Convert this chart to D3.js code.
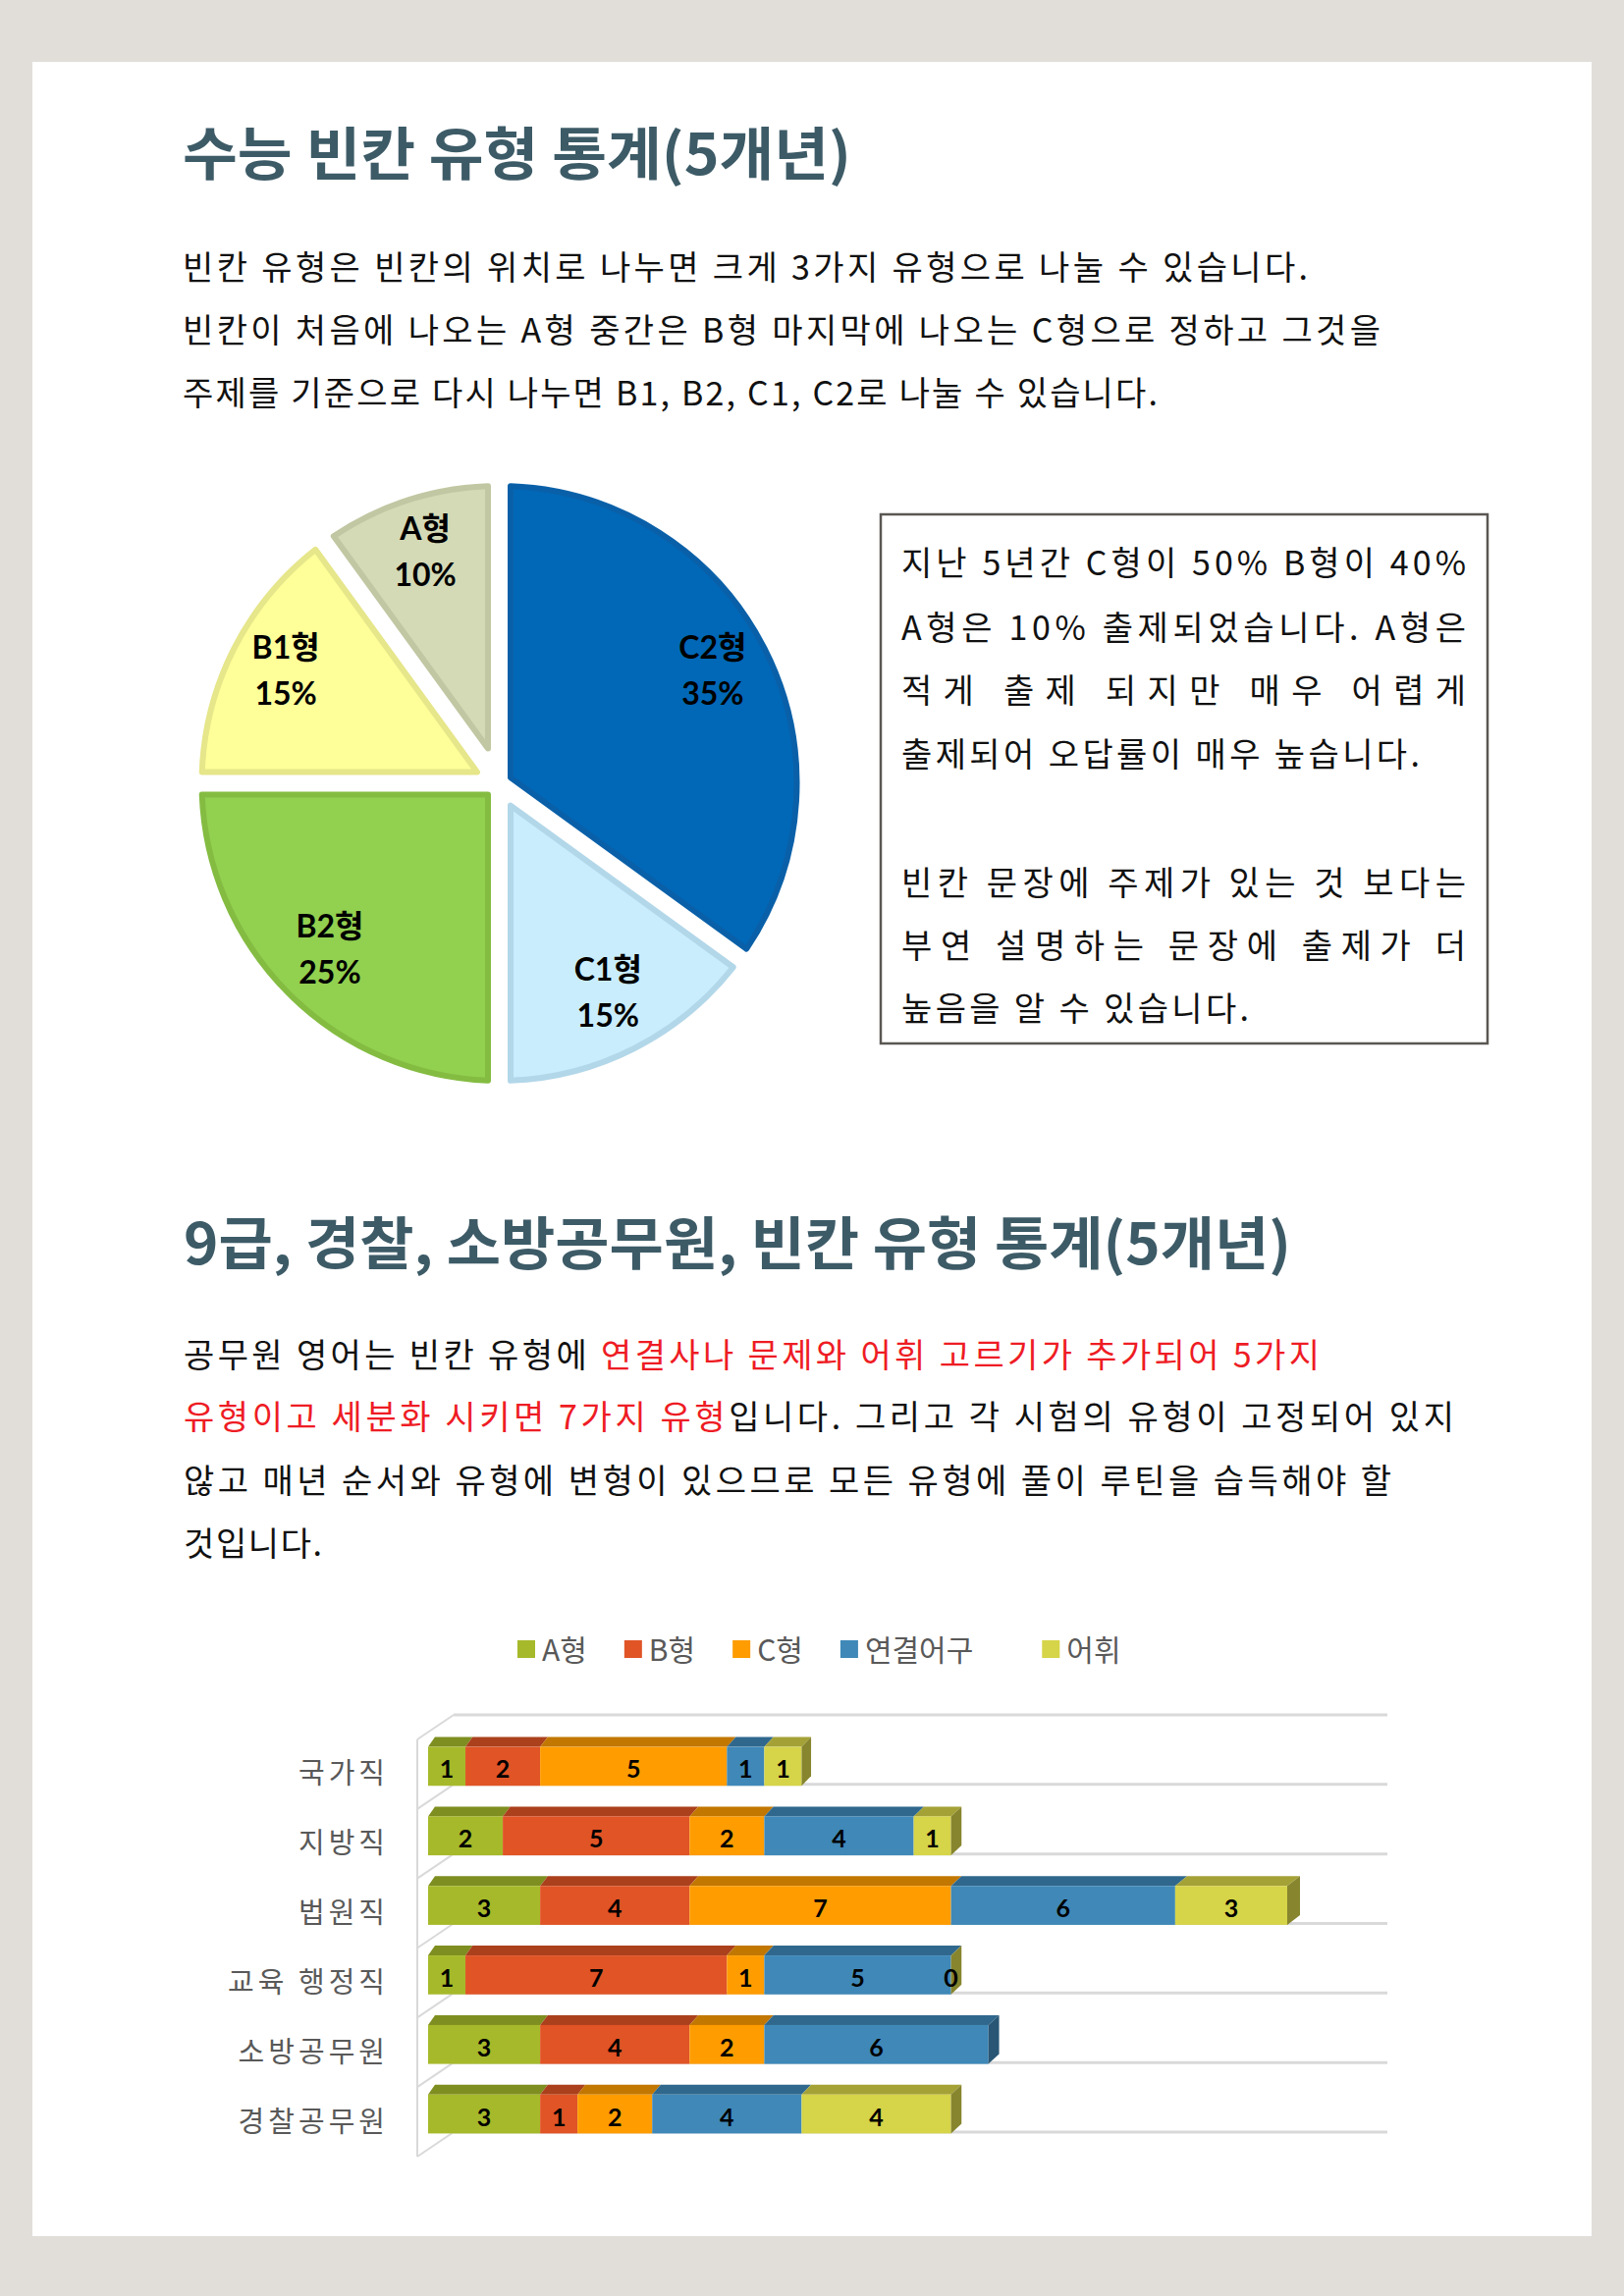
<!DOCTYPE html>
<html>
<head>
<meta charset="utf-8">
<script src="https://cdn.jsdelivr.net/npm/d3@7"></script>
<style>
  body { margin: 0; background: #e1ddd9; }
  svg { display: block; }
</style>
</head>
<body>
<div id="container"></div>
<script>
/* CONSTANTS AND GLOBALS */
const width = 1654, height = 2339
const KR = "'Noto Sans CJK KR', 'Noto Sans', sans-serif"
const LABEL = "Lato, 'Noto Sans CJK KR', sans-serif"

/* DATA */
// pie: clockwise from 12 o'clock
const pieNames = ["C2형", "C1형", "B2형", "B1형", "A형"]
const pieValues = [35, 15, 25, 15, 10]

// stacked bars
const categories = ["국가직", "지방직", "법원직", "교육 행정직", "소방공무원", "경찰공무원"]
const seriesNames = ["A형", "B형", "C형", "연결어구", "어휘"]
const aType = [1, 2, 3, 1, 3, 3]
const bType = [2, 5, 4, 7, 4, 1]
const cType = [5, 2, 7, 1, 2, 2]
const linkType = [1, 4, 6, 5, 6, 4]
const vocabType = [1, 1, 3, 0, null, 4]

/* STYLES */
const pieFill = ["#0068b7", "#c9edfc", "#92d050", "#ffff99", "#d4dab6"]
const pieEdge = ["#0a60a8", "#b2d7e9", "#84bc42", "#e6e68a", "#c1c7a2"]
const barColors = ["#a6b92a", "#e05426", "#fe9c00", "#3f88b8", "#d6d448"]
const titleColor = "#3d5b67"
const red = "#ee1c24"

// text blocks
const para1 = [
  { t: "빈칸 유형은 빈칸의 위치로 나누면 크게 3가지 유형으로 나눌 수 있습니다.", y: 285, w: 1146 },
  { t: "빈칸이 처음에 나오는 A형 중간은 B형 마지막에 나오는 C형으로 정하고 그것을", y: 349, w: 1220 },
  { t: "주제를 기준으로 다시 나누면 B1, B2, C1, C2로 나눌 수 있습니다.", y: 413, w: 993 }
]
const boxLines = [
  { t: "지난 5년간 C형이 50% B형이 40%", y: 586, w: 575 },
  { t: "A형은 10% 출제되었습니다. A형은", y: 652, w: 575 },
  { t: "적게 출제 되지만 매우 어렵게", y: 716, w: 575 },
  { t: "출제되어 오답률이 매우 높습니다.", y: 781, w: 528 },
  { t: "빈칸 문장에 주제가 있는 것 보다는", y: 912, w: 575 },
  { t: "부연 설명하는 문장에 출제가 더", y: 976, w: 575 },
  { t: "높음을 알 수 있습니다.", y: 1040, w: 354 }
]
const para2 = [
  { parts: [["공무원 영어는 빈칸 유형에 ", false], ["연결사나 문제와 어휘 고르기가 추가되어 5가지", true]], y: 1393, w: 1157 },
  { parts: [["유형이고 세분화 시키면 7가지 유형", true], ["입니다. 그리고 각 시험의 유형이 고정되어 있지", false]], y: 1456, w: 1294 },
  { parts: [["않고 매년 순서와 유형에 변형이 있으므로 모든 유형에 풀이 루틴을 습득해야 할", false]], y: 1521, w: 1230 },
  { parts: [["것입니다.", false]], y: 1585, w: 141 }
]

/* CREATE SVG ELEMENT */
const svg = d3.select("#container")
  .append("svg")
  .attr("width", width)
  .attr("height", height)

svg.append("rect")
  .attr("x", 33).attr("y", 63)
  .attr("width", 1588).attr("height", 2215)
  .attr("fill", "#ffffff")

// TITLES
const titles = [
  { t: "수능 빈칸 유형 통계(5개년)", x: 186, y: 178, w: 681 },
  { t: "9급, 경찰, 소방공무원, 빈칸 유형 통계(5개년)", x: 187, y: 1288, w: 1128 }
]
svg.selectAll(".title")
  .data(titles)
  .join("text")
  .attr("class", "title")
  .attr("x", d => d.x)
  .attr("y", d => d.y)
  .attr("textLength", d => d.w)
  .attr("lengthAdjust", "spacingAndGlyphs")
  .attr("font-family", KR)
  .attr("font-weight", 700)
  .attr("font-size", 58)
  .attr("fill", titleColor)
  .text(d => d.t)

// PARAGRAPHS
svg.selectAll(".p1")
  .data(para1)
  .join("text")
  .attr("class", "p1")
  .attr("x", 186)
  .attr("y", d => d.y)
  .attr("textLength", d => d.w)
  .attr("lengthAdjust", "spacing")
  .attr("font-family", KR)
  .attr("font-size", 34)
  .attr("fill", "#111")
  .text(d => d.t)

const p2 = svg.selectAll(".p2")
  .data(para2)
  .join("text")
  .attr("class", "p2")
  .attr("x", 187)
  .attr("y", d => d.y)
  .attr("textLength", d => d.w)
  .attr("lengthAdjust", "spacing")
  .attr("font-family", KR)
  .attr("font-size", 34)
p2.selectAll("tspan")
  .data(d => d.parts)
  .join("tspan")
  .attr("fill", d => d[1] ? red : "#111")
  .text(d => d[0])

// TEXT BOX
svg.append("rect")
  .attr("x", 897).attr("y", 524)
  .attr("width", 618).attr("height", 539)
  .attr("fill", "none")
  .attr("stroke", "#5a5753")
  .attr("stroke-width", 2.5)

svg.selectAll(".box")
  .data(boxLines)
  .join("text")
  .attr("class", "box")
  .attr("x", 918)
  .attr("y", d => d.y)
  .attr("textLength", d => d.w)
  .attr("lengthAdjust", "spacing")
  .attr("font-family", KR)
  .attr("font-size", 34)
  .attr("fill", "#111")
  .text(d => d.t)

// PIE
const cx = 508.5, cy = 798, rOuter = 306, gapHalf = 8.5, edgeW = 6
const arcs = d3.pie().sort(null).value(d => d)(pieValues)

const pt = (a, r) => [cx + r * Math.sin(a), cy - r * Math.cos(a)]
function slicePath(d) {
  const h = gapHalf + edgeW / 2, r = rOuter - edgeW / 2
  const span = d.endAngle - d.startAngle, mid = (d.startAngle + d.endAngle) / 2
  const tip = pt(mid, h / Math.sin(span / 2))
  const p = Math.asin(h / r)
  const s = pt(d.startAngle + p, r)
  const path = d3.path()
  path.moveTo(tip[0], tip[1])
  path.lineTo(s[0], s[1])
  path.arc(cx, cy, r, d.startAngle + p - Math.PI / 2, d.endAngle - p - Math.PI / 2)
  path.closePath()
  return path.toString()
}

svg.selectAll(".slice")
  .data(arcs)
  .join("path")
  .attr("class", "slice")
  .attr("d", slicePath)
  .attr("fill", (d, i) => pieFill[i])
  .attr("stroke", (d, i) => pieEdge[i])
  .attr("stroke-width", edgeW)
  .attr("stroke-linejoin", "round")

const labelArc = d3.arc().innerRadius(244).outerRadius(244)
const pieLabels = svg.selectAll(".pieLabel")
  .data(arcs)
  .join("text")
  .attr("class", "pieLabel")
  .attr("transform", d => {
    const c = labelArc.centroid(d)
    return `translate(${cx + c[0]}, ${cy + c[1] - 4})`
  })
  .attr("text-anchor", "middle")
  .attr("font-family", LABEL)
  .attr("font-weight", 700)
  .attr("font-size", 32)
  .attr("fill", "#000")
pieLabels.append("tspan")
  .attr("x", 0).attr("y", -12)
  .text((d, i) => pieNames[i])
pieLabels.append("tspan")
  .attr("x", 0).attr("y", 35)
  .text(d => d.data + "%")

// BAR CHART
const rows = categories.map((c, i) => ({
  cat: c,
  "A형": aType[i], "B형": bType[i], "C형": cType[i], "연결어구": linkType[i], "어휘": vocabType[i]
}))
const stacked = d3.stack()
  .keys(seriesNames)
  .value((d, k) => d[k] == null ? 0 : d[k])(rows)

const xScale = d3.scaleLinear().domain([0, 23]).range([436, 1311])
const depthX = d3.scaleLinear().domain([0, 23]).range([7, 13])
const depthY = 10
const yScale = d3.scaleBand()
  .domain(categories)
  .range([1747, 2172])
  .paddingInner(0.44)
  .paddingOuter(0.22)
const step = yScale.step()
const frontTop = c => yScale(c) + 17
const bw = yScale.bandwidth()

// back grid lines + left wall
const gridYs = d3.range(categories.length + 1).map(k => 1747 + k * step)
svg.selectAll(".grid")
  .data(gridYs)
  .join("line")
  .attr("class", "grid")
  .attr("x1", 462).attr("x2", 1413)
  .attr("y1", d => d).attr("y2", d => d)
  .attr("stroke", "#d9d9d9")
  .attr("stroke-width", 3)
svg.selectAll(".wallTick")
  .data(gridYs)
  .join("line")
  .attr("class", "wallTick")
  .attr("x1", 425).attr("y1", d => d + 25)
  .attr("x2", 462).attr("y2", d => d)
  .attr("stroke", "#d9d9d9")
  .attr("stroke-width", 2)
svg.append("line")
  .attr("x1", 425).attr("x2", 425)
  .attr("y1", gridYs[0] + 25).attr("y2", gridYs[gridYs.length - 1] + 25)
  .attr("stroke", "#d9d9d9")
  .attr("stroke-width", 2)

// category labels
svg.selectAll(".catLabel")
  .data(categories)
  .join("text")
  .attr("class", "catLabel")
  .attr("x", 396)
  .attr("y", d => frontTop(d) + bw / 2 + 18)
  .attr("text-anchor", "end")
  .attr("font-family", KR)
  .attr("font-size", 29)
  .attr("letter-spacing", 4)
  .attr("fill", "#595959")
  .text(d => d)

// segments
const poly = pts => "M" + pts.map(p => p.join(",")).join("L") + "Z"
stacked.forEach((layer, si) => {
  const base = d3.color(barColors[si])
  const g = svg.append("g").attr("class", "series")
  layer.forEach(seg => {
    const row = seg.data
    if (row[layer.key] == null) return
    const x0 = xScale(seg[0]), x1 = xScale(seg[1])
    const t = frontTop(row.cat)
    g.append("path")
      .attr("d", poly([[x0, t], [x0 + depthX(seg[0]), t - depthY], [x1 + depthX(seg[1]), t - depthY], [x1, t]]))
      .attr("fill", base.darker(0.75))
    g.append("rect")
      .attr("x", x0).attr("y", t)
      .attr("width", x1 - x0).attr("height", bw)
      .attr("fill", barColors[si])
  })
})

// right side face: color of last non-null series in each row
rows.forEach((row, i) => {
  let last = -1
  seriesNames.forEach((k, si) => { if (row[k] != null) last = si })
  const end = stacked[last][i][1]
  const x1 = xScale(end), dx = depthX(end)
  const t = frontTop(row.cat), b = t + bw
  svg.append("path")
    .attr("class", "side")
    .attr("d", poly([[x1, t], [x1 + dx, t - depthY], [x1 + dx, b - depthY], [x1, b]]))
    .attr("fill", d3.color(barColors[last]).darker(1.3))
})

// value labels
stacked.forEach(layer => {
  svg.selectAll(null)
    .data(layer.filter(seg => seg.data[layer.key] != null))
    .join("text")
    .attr("x", seg => (xScale(seg[0]) + xScale(seg[1])) / 2)
    .attr("y", seg => frontTop(seg.data.cat) + bw / 2 + 12)
    .attr("text-anchor", "middle")
    .attr("font-family", LABEL)
    .attr("font-weight", 700)
    .attr("font-size", 25)
    .attr("fill", "#000")
    .text(seg => seg.data[layer.key])
})

// legend
let lx = 527
seriesNames.forEach((name, i) => {
  svg.append("rect")
    .attr("x", lx).attr("y", 1671)
    .attr("width", 18).attr("height", 18)
    .attr("fill", barColors[i])
  const txt = svg.append("text")
    .attr("x", lx + 25).attr("y", 1692)
    .attr("font-family", KR)
    .attr("font-size", 30)
    .attr("fill", "#595959")
    .text(name)
  lx += 25 + txt.node().getComputedTextLength() + (i === 3 ? 70 : 38)
})
</script>
</body>
</html>
